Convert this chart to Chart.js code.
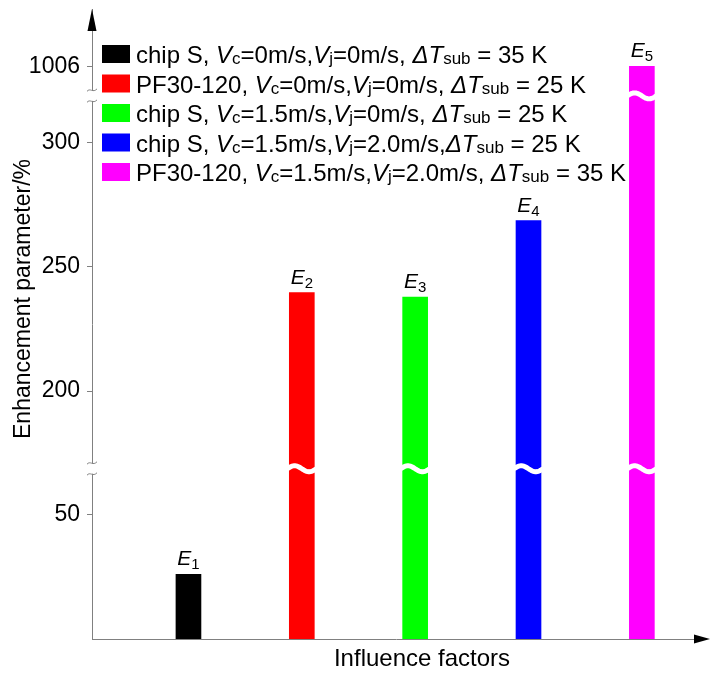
<!DOCTYPE html>
<html>
<head>
<meta charset="utf-8">
<script src="https://cdn.jsdelivr.net/npm/chart.js@4"></script>
<style>
body { margin: 0; background: #fff; }
</style>
</head>
<body>
<canvas id="enhGraph" width="711" height="673"></canvas>
<script>
// values
var barLabels = ['1', '2', '3', '4', '5'];            // E subscripts
var barValues = [26, 239.6, 237.8, 268.5, 1006];
var barColors = ['#000000', '#ff0000', '#00ff00', '#0000ff', '#ff00ff'];

// *..* = italic, _.._ = small
var legendTexts = [
    'chip S, *V*_c_=0m/s,*V*_j_=0m/s, *ΔT*_sub_ = 35 K',
    'PF30-120, *V*_c_=0m/s,*V*_j_=0m/s, *ΔT*_sub_ = 25 K',
    'chip S, *V*_c_=1.5m/s,*V*_j_=0m/s, *ΔT*_sub_ = 25 K',
    'chip S, *V*_c_=1.5m/s,*V*_j_=2.0m/s,*ΔT*_sub_ = 25 K',
    'PF30-120, *V*_c_=1.5m/s,*V*_j_=2.0m/s, *ΔT*_sub_ = 35 K'
];

var tickValues = [50, 200, 250, 300, 1006];
var yMaxValue = 1029;
// value ranges cut out of the broken y axis
var axisBreaks = [[68.4, 168.8], [318.6, 994.1]];

var axisGray = '#808080';
var fontFam = '"Liberation Sans", Arial, sans-serif';

function toAxis(v) {
    var a = v;
    for (var i = 0; i < axisBreaks.length; i++) {
        var lo = axisBreaks[i][0], hi = axisBreaks[i][1];
        if (v >= hi) a -= (hi - lo);
        else if (v > lo) a -= (v - lo);
    }
    return a;
}

function drawRich(ctx, text, x, y, size) {
    var parts = text.split(/(\*[^*]+\*|_[^_]+_)/);
    for (var i = 0; i < parts.length; i++) {
        var p = parts[i];
        if (!p) continue;
        var dy = 0;
        if (p[0] == '*') {
            p = p.slice(1, -1);
            ctx.font = 'italic ' + size + 'px ' + fontFam;
        } else if (p[0] == '_') {
            p = p.slice(1, -1);
            ctx.font = Math.round(size * 0.72) + 'px ' + fontFam;
            dy = 1;
        } else {
            ctx.font = size + 'px ' + fontFam;
        }
        ctx.fillText(p, x, y + dy);
        x += ctx.measureText(p).width;
    }
    return x;
}

function tilde(ctx, x, y) {
    ctx.beginPath();
    ctx.moveTo(x - 5, y + 1);
    ctx.bezierCurveTo(x - 2, y - 3, x + 1, y + 3, x + 5, y - 1.5);
    ctx.stroke();
}

var brokenAxis = {
    id: 'brokenAxis',
    afterDatasetsDraw: function(chart) {
        var ctx = chart.ctx;
        var yScale = chart.scales.y;
        var meta = chart.getDatasetMeta(0);
        ctx.save();
        ctx.strokeStyle = '#ffffff';
        ctx.lineWidth = 5;
        for (var b = 0; b < axisBreaks.length; b++) {
            var yb = yScale.getPixelForValue(toAxis(axisBreaks[b][0]));
            for (var i = 0; i < meta.data.length; i++) {
                var bar = meta.data[i];
                if (bar.y >= yb) continue;
                var left = bar.x - bar.width / 2 - 2;
                var w = bar.width + 4;
                ctx.beginPath();
                for (var t = 0; t <= 30; t++) {
                    var px = left + w * t / 30;
                    var py = yb - 3 * Math.sin(2 * Math.PI * t / 30);
                    if (t == 0) ctx.moveTo(px, py); else ctx.lineTo(px, py);
                }
                ctx.stroke();
            }
        }
        ctx.restore();
    },
    afterDraw: function(chart) {
        var ctx = chart.ctx;
        var area = chart.chartArea;
        var yScale = chart.scales.y;
        var meta = chart.getDatasetMeta(0);
        ctx.save();

        // breaks on the y axis
        for (var b = 0; b < axisBreaks.length; b++) {
            var yb = yScale.getPixelForValue(toAxis(axisBreaks[b][0]));
            ctx.fillStyle = '#ffffff';
            ctx.fillRect(area.left - 3, yb - 5, 6, 10);
            ctx.strokeStyle = axisGray;
            ctx.lineWidth = 1;
            tilde(ctx, area.left, yb - 5.5);
            tilde(ctx, area.left, yb + 5.5);
        }

        // arrow heads
        ctx.fillStyle = '#000000';
        ctx.beginPath();
        ctx.moveTo(area.left, area.top);
        ctx.lineTo(area.left - 4.5, area.top + 22);
        ctx.lineTo(area.left + 4.5, area.top + 22);
        ctx.closePath();
        ctx.fill();
        ctx.beginPath();
        ctx.moveTo(area.right + 10, area.bottom);
        ctx.lineTo(area.right - 6, area.bottom - 4.5);
        ctx.lineTo(area.right - 6, area.bottom + 4.5);
        ctx.closePath();
        ctx.fill();

        // E labels over the bars
        ctx.textBaseline = 'alphabetic';
        ctx.textAlign = 'left';
        for (var i = 0; i < meta.data.length; i++) {
            var bar = meta.data[i];
            ctx.font = 'italic 21px ' + fontFam;
            var wE = ctx.measureText('E').width;
            ctx.font = '15px ' + fontFam;
            var wS = ctx.measureText(barLabels[i]).width;
            var x0 = bar.x - (wE + wS) / 2;
            ctx.font = 'italic 21px ' + fontFam;
            ctx.fillText('E', x0, bar.y - 9);
            ctx.font = '15px ' + fontFam;
            ctx.fillText(barLabels[i], x0 + wE, bar.y - 5);
        }

        // legend
        for (var i = 0; i < legendTexts.length; i++) {
            var top = 45 + i * 29.5;
            ctx.fillStyle = barColors[i];
            ctx.fillRect(area.left + 10, top, 28, 18);
            ctx.fillStyle = '#000000';
            drawRich(ctx, legendTexts[i], area.left + 44, top + 18, 24);
        }

        // axis titles
        ctx.font = '24px ' + fontFam;
        ctx.textAlign = 'center';
        ctx.textBaseline = 'middle';
        ctx.fillText('Influence factors', 422, 659);
        ctx.translate(24, 299);
        ctx.rotate(-Math.PI / 2);
        ctx.font = '23px ' + fontFam;
        ctx.fillText('Enhancement parameter/%', 0, 0);
        ctx.restore();
    }
};

var ctx1 = document.getElementById('enhGraph').getContext('2d');
var enhGraph = new Chart(ctx1, {
    type: 'bar',
    data: {
        datasets: [{
            data: barValues.map(function(v, i) { return { x: i + 1, y: toAxis(v) }; }),
            backgroundColor: barColors,
            borderWidth: 0,
            barThickness: 25
        }]
    },
    options: {
        responsive: false,
        animation: false,
        layout: { padding: { top: 9, right: 11, bottom: 34, left: 0 } },
        plugins: {
            legend: { display: false },
            tooltip: { enabled: false }
        },
        scales: {
            x: {
                type: 'linear',
                offset: false,
                min: 0.149,
                max: 5.513,
                ticks: { display: false },
                grid: { display: false },
                border: { color: axisGray, width: 1 },
                afterFit: function(scale) { scale.height = 0; }
            },
            y: {
                min: 0,
                max: toAxis(yMaxValue),
                afterBuildTicks: function(scale) {
                    scale.ticks = tickValues.map(function(v) { return { value: toAxis(v) }; });
                },
                ticks: {
                    autoSkip: false,
                    padding: 7,
                    color: '#000000',
                    font: { family: fontFam, size: 23 },
                    callback: function(value) {
                        for (var i = 0; i < tickValues.length; i++) {
                            if (Math.abs(toAxis(tickValues[i]) - value) < 1e-6) return tickValues[i];
                        }
                        return '';
                    }
                },
                grid: { drawOnChartArea: false, tickLength: 5, color: axisGray },
                border: { color: axisGray, width: 1 },
                afterFit: function(scale) {
                    scale.width = 92;
                    scale.paddingTop = 0;
                    scale.paddingBottom = 0;
                }
            }
        }
    },
    plugins: [brokenAxis]
});
</script>
</body>
</html>
